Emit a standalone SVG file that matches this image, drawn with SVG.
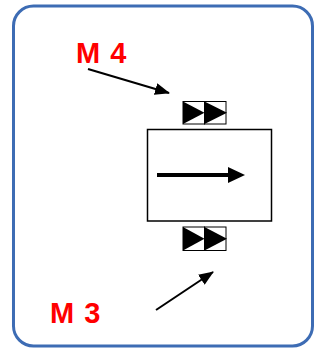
<svg xmlns="http://www.w3.org/2000/svg" width="322" height="350" viewBox="0 0 322 350">
<style>
.lbl{font-family:"Liberation Sans",Arial,sans-serif;font-weight:bold;font-size:29px;fill:#ff0000;word-spacing:2px}
.cell{fill:#fff;stroke:#000;stroke-width:1}
.tri{fill:#000}
.conn{stroke:#000;stroke-width:2;fill:none}
</style>
<defs>
<marker id="ah" markerWidth="15" markerHeight="12" refX="14" refY="6" orient="auto" markerUnits="userSpaceOnUse" viewBox="0 0 15 12">
<path d="M0,0 L15,6 L0,12 Z" fill="#000"/>
</marker>
</defs>
<rect x="13.5" y="6" width="299" height="340" rx="20" ry="20" fill="#fff" stroke="#3d6cb4" stroke-width="3"/>
<g id="machine">
<rect x="147.5" y="129.5" width="124" height="91.5" fill="#fff" stroke="#000" stroke-width="1.5"/>
<line x1="157" y1="175" x2="230" y2="175" stroke="#000" stroke-width="4"/>
<path d="M228,167 L245,175 L228,183 Z" fill="#000"/>
</g>
<g id="m4-block">
<rect class="cell" x="183" y="101.5" width="21.5" height="22.5"/>
<rect class="cell" x="204.5" y="101.5" width="21.5" height="22.5"/>
<path class="tri" d="M183,101.5 L204.5,112.75 L183,124 Z"/>
<path class="tri" d="M204.5,101.5 L227,112.75 L204.5,124 Z"/>
</g>
<g id="m3-block">
<rect class="cell" x="183" y="227" width="21.5" height="23.5"/>
<rect class="cell" x="204.5" y="227" width="21.5" height="23.5"/>
<path class="tri" d="M183,227 L204.5,238.75 L183,250.5 Z"/>
<path class="tri" d="M204.5,227 L227,238.75 L204.5,250.5 Z"/>
</g>
<g id="label-m4"><text class="lbl" x="76" y="62.5">M 4</text></g>
<g id="label-m3"><text class="lbl" x="50" y="322.5">M 3</text></g>
<g id="connectors">
<line class="conn" x1="88" y1="69" x2="169" y2="93" marker-end="url(#ah)"/>
<line class="conn" x1="156" y1="310" x2="213" y2="272" marker-end="url(#ah)"/>
</g>
</svg>
